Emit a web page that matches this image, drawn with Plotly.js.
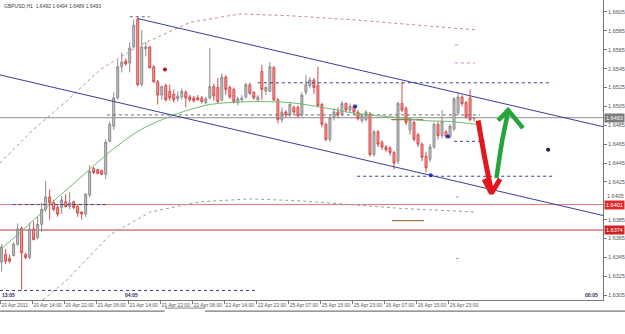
<!DOCTYPE html>
<html><head><meta charset="utf-8">
<script src="https://cdn.plot.ly/plotly-3.0.1.min.js"></script>
<style>html,body{margin:0;padding:0;background:#fff;}#chart{width:625px;height:334px;}</style>
</head><body><div id="chart"></div>
<script>
// ---- OHLC data (GBPUSD H1), one value per bar ----
const open = [1.6340,1.6348,1.6344,1.6347,1.6359,1.6376,1.6348,1.6345,1.6375,1.6366,
1.6380,1.6396,1.6409,1.6403,1.6398,1.6398,1.6404,1.6399,1.6404,1.6399,
1.6393,1.6391,1.6411,1.6439,1.6438,1.6437,1.6433,1.6468,1.6484,1.6514,
1.6547,1.6553,1.6551,1.6568,1.6597,1.6528,1.6566,1.6568,1.6547,1.6531,
1.6517,1.6527,1.6521,1.6518,1.6513,1.6515,1.6520,1.6515,1.6514,1.6514,
1.6514,1.6509,1.6514,1.6526,1.6525,1.6512,1.6536,1.6525,1.6523,1.6509,
1.6512,1.6515,1.6528,1.6520,1.6512,1.6542,1.6521,1.6521,1.6546,1.6512,
1.6491,1.6499,1.6496,1.6504,1.6504,1.6496,1.6520,1.6527,1.6533,1.6527,
1.6507,1.6486,1.6470,1.6493,1.6499,1.6497,1.6508,1.6501,1.6505,1.6499,
1.6490,1.6491,1.6497,1.6454,1.6478,1.6467,1.6462,1.6461,1.6456,1.6447,
1.6508,1.6503,1.6480,1.6488,1.6475,1.6465,1.6452,1.6449,1.6462,1.6486,
1.6474,1.6478,1.6473,1.6481,1.6498,1.6515,1.6509,1.6514,1.6492];
const high = [1.6359,1.6354,1.6348,1.6361,1.6381,1.6378,1.6350,1.6382,1.6383,1.6388,
1.6403,1.6426,1.6417,1.6406,1.6401,1.6410,1.6412,1.6414,1.6405,1.6401,
1.6394,1.6413,1.6443,1.6441,1.6439,1.6438,1.6470,1.6489,1.6520,1.6554,
1.6562,1.6556,1.6573,1.6597,1.6600,1.6586,1.6573,1.6569,1.6549,1.6533,
1.6527,1.6529,1.6528,1.6523,1.6521,1.6524,1.6522,1.6517,1.6516,1.6517,
1.6516,1.6515,1.6567,1.6529,1.6535,1.6540,1.6538,1.6527,1.6525,1.6515,
1.6517,1.6530,1.6530,1.6521,1.6517,1.6549,1.6527,1.6552,1.6548,1.6514,
1.6504,1.6501,1.6509,1.6506,1.6506,1.6520,1.6538,1.6536,1.6535,1.6547,
1.6509,1.6488,1.6496,1.6503,1.6504,1.6511,1.6509,1.6508,1.6507,1.6501,
1.6498,1.6501,1.6499,1.6480,1.6480,1.6469,1.6464,1.6463,1.6458,1.6510,
1.6531,1.6505,1.6493,1.6490,1.6477,1.6467,1.6457,1.6465,1.6488,1.6489,
1.6501,1.6480,1.6486,1.6515,1.6519,1.6517,1.6511,1.6523,1.6494];
const low = [1.6330,1.6338,1.6339,1.6346,1.6357,1.6310,1.6343,1.6343,1.6363,1.6364,
1.6372,1.6393,1.6385,1.6394,1.6388,1.6391,1.6398,1.6396,1.6396,1.6388,
1.6385,1.6388,1.6409,1.6433,1.6433,1.6432,1.6428,1.6467,1.6480,1.6512,
1.6541,1.6548,1.6541,1.6567,1.6526,1.6526,1.6558,1.6545,1.6530,1.6507,
1.6512,1.6510,1.6511,1.6509,1.6510,1.6512,1.6504,1.6510,1.6509,1.6511,
1.6508,1.6507,1.6512,1.6511,1.6508,1.6510,1.6517,1.6513,1.6508,1.6506,
1.6509,1.6513,1.6517,1.6512,1.6510,1.6512,1.6517,1.6520,1.6510,1.6487,
1.6488,1.6493,1.6494,1.6497,1.6493,1.6494,1.6517,1.6524,1.6518,1.6504,
1.6483,1.6468,1.6467,1.6490,1.6493,1.6495,1.6499,1.6498,1.6496,1.6490,
1.6487,1.6489,1.6452,1.6452,1.6462,1.6459,1.6457,1.6453,1.6438,1.6444,
1.6499,1.6485,1.6475,1.6468,1.6462,1.6447,1.6435,1.6446,1.6460,1.6470,
1.6471,1.6471,1.6471,1.6479,1.6496,1.6505,1.6492,1.6489,1.6489];
const close = [1.6356,1.6341,1.6341,1.6359,1.6375,1.6350,1.6345,1.6375,1.6364,1.6380,
1.6396,1.6409,1.6403,1.6396,1.6391,1.6406,1.6399,1.6403,1.6398,1.6392,
1.6391,1.6412,1.6436,1.6435,1.6434,1.6433,1.6467,1.6486,1.6514,1.6547,
1.6552,1.6550,1.6567,1.6591,1.6528,1.6568,1.6568,1.6546,1.6531,1.6517,
1.6526,1.6512,1.6514,1.6512,1.6516,1.6521,1.6514,1.6512,1.6511,1.6512,
1.6510,1.6513,1.6526,1.6516,1.6510,1.6536,1.6523,1.6515,1.6510,1.6513,
1.6514,1.6528,1.6519,1.6514,1.6515,1.6523,1.6525,1.6547,1.6512,1.6491,
1.6499,1.6496,1.6507,1.6499,1.6495,1.6517,1.6528,1.6533,1.6525,1.6506,
1.6486,1.6470,1.6493,1.6499,1.6496,1.6508,1.6501,1.6505,1.6499,1.6492,
1.6495,1.6499,1.6454,1.6478,1.6465,1.6462,1.6459,1.6456,1.6445,1.6508,
1.6501,1.6488,1.6491,1.6470,1.6465,1.6451,1.6440,1.6462,1.6486,1.6474,
1.6489,1.6473,1.6484,1.6513,1.6515,1.6508,1.6494,1.6491,1.6493];

// ---- axis labels ----
const xTickBars = [0,8,16,24,32,40,48,56,64,72,80,88,96,104,112];
const xTickText = ["20 Apr 2011","20 Apr 14:00","20 Apr 22:00","21 Apr 06:00","21 Apr 14:00","21 Apr 22:00","22 Apr 06:00","22 Apr 14:00","22 Apr 22:00","25 Apr 07:00","25 Apr 15:00","25 Apr 23:00","26 Apr 07:00","26 Apr 15:00","26 Apr 23:00"];
const yTicks = [1.6605,1.6585,1.6565,1.6545,1.6525,1.6505,1.6485,1.6465,1.6445,1.6425,1.6405,1.6385,1.6365,1.6345,1.6325,1.6305];
const yTickHidden = [1.6405]; // label mostly covered by the 1.6401 box; drawn just above it

// ---- indicator lines (bar index, price) ----
const maBar   = [-0.4,6.6,13.6,20.6,27.6,34.6,40.1,45.8,52.0,62.0,72.0,81.3,86.3,91.5,99.5,105.2,112.0,118.5];
const maPrice = [1.6353,1.6379,1.6407,1.6433,1.6459,1.6480,1.6491,1.6500,1.6507,1.6510,1.6509,1.6503,1.6499,1.6496,1.6493,1.6490,1.6489,1.6486];
const envUpBar   = [-0.4,7.8,16.6,24.6,34.6,47.1,59.5,72.0,87.0,104.5,118.5];
const envUpPrice = [1.6445,1.6480,1.6512,1.6544,1.6570,1.6594,1.6603,1.6601,1.6597,1.6591,1.6586];
const envLoBar   = [10.3,16.3,27.1,37.1,49.6,62.0,74.5,87.0,99.5,118.5];
const envLoPrice = [1.6300,1.6321,1.6369,1.6393,1.6404,1.6407,1.6405,1.6401,1.6397,1.6393];

// ---- channel (two parallel rays) ----
const chanUpBar = [34.0,150.2],  chanUpPrice = [1.6598,1.64835];
const chanLoBar = [-0.4,150.2],  chanLoPrice = [1.65383,1.63894];

// ---- horizontal levels ----
const fullLevels = [1.6493,1.6401,1.6374];
const dotLevelPrice = [1.6310,1.6530,1.6468,1.6431,1.6401];
const dotLevelFrom  = [-0.4,64,113,88.8,2.8];
const dotLevelTo    = [64,137.5,120.7,137.5,26.3];
const dashLevelPrice = [1.6496,1.6600];
const dashLevelFrom  = [26.3,32];
const dashLevelTo    = [119.5,37];
const pinkLevelPrice = [1.6551,1.6570,1.6409,1.6344];
const pinkLevelFrom  = [113.2,113.2,113.5,113.5];
const pinkLevelTo    = [118.2,114.6,114.8,114.8];
const brownLevelPrice = [1.6384,1.6491];
const brownLevelFrom  = [97.5,97.3];
const brownLevelTo    = [105.5,105.3];

// ---- point markers ----
const fractalBar = [88.3,107.2,111.5], fractalPrice = [1.6505,1.6432,1.6473];
const redDotBar = [40.8], redDotPrice = [1.6544];
const navyDotBar = [136.5], navyDotPrice = [1.6459];

// ---- hand drawn arrows ----
const redShaftBar = [119.0,120.6,122.35], redShaftPrice = [1.6490,1.6452,1.6415];
const redHeadBar = [120.5,122.35,124.5], redHeadPrice = [1.6428,1.6413,1.6428];
const greenShaftBar = [123.6,125.0,126.5], greenShaftPrice = [1.6429,1.6468,1.6499];
const greenHeadBar = [124.0,126.5,130.2], greenHeadPrice = [1.6490,1.6501,1.6482];

const titleText = "GBPUSD,H1  1.6492 1.6494 1.6489 1.6493";
const timerText = ["13:05","04:05","00:05"];

// ---------- build ----------
const barIndex = open.map((_, i) => i);
function segs(prices, from, to){
  const x=[], y=[];
  prices.forEach((p,k)=>{ x.push(from[k],to[k],null); y.push(p,p,null); });
  return {x,y};
}
const traces = [];
traces.push({type:'scatter',mode:'lines',x:envUpBar,y:envUpPrice,line:{color:'#c48a8a',width:1,dash:'dot'},hoverinfo:'skip'});
traces.push({type:'scatter',mode:'lines',x:envLoBar,y:envLoPrice,line:{color:'#98a48a',width:1,dash:'dot'},hoverinfo:'skip'});
let s = segs(dotLevelPrice,dotLevelFrom,dotLevelTo);
traces.push({type:'scatter',mode:'lines',x:s.x,y:s.y,line:{color:'#3d3d8f',width:1,dash:'dot'},hoverinfo:'skip',connectgaps:false});
s = segs(dashLevelPrice,dashLevelFrom,dashLevelTo);
traces.push({type:'scatter',mode:'lines',x:s.x,y:s.y,line:{color:'#6a6a6a',width:1,dash:'3px,3px'},hoverinfo:'skip',connectgaps:false});
s = segs(pinkLevelPrice,pinkLevelFrom,pinkLevelTo);
traces.push({type:'scatter',mode:'lines',x:s.x,y:s.y,line:{color:'#cc88c8',width:1,dash:'dot'},hoverinfo:'skip',connectgaps:false});
s = segs(brownLevelPrice,brownLevelFrom,brownLevelTo);
traces.push({type:'scatter',mode:'lines',x:s.x,y:s.y,line:{color:'#a8783a',width:1.3},hoverinfo:'skip',connectgaps:false});
traces.push({type:'scatter',mode:'lines',x:maBar,y:maPrice,line:{color:'#6dbb6d',width:1,shape:'spline',smoothing:0.8},hoverinfo:'skip'});
traces.push({type:'candlestick',x:barIndex,open:open,high:high,low:low,close:close,
  increasing:{line:{color:'#8c8c8c',width:1},fillcolor:'#c4c4c4'},
  decreasing:{line:{color:'#d64a4a',width:1},fillcolor:'#f2a0a0'},
  whiskerwidth:0,hoverinfo:'skip'});
traces.push({type:'scatter',mode:'lines',x:chanUpBar,y:chanUpPrice,line:{color:'#3c3c9a',width:1},hoverinfo:'skip'});
traces.push({type:'scatter',mode:'lines',x:chanLoBar,y:chanLoPrice,line:{color:'#3c3c9a',width:1},hoverinfo:'skip'});
traces.push({type:'scatter',mode:'markers',x:fractalBar,y:fractalPrice,marker:{color:'#2030c8',size:4},hoverinfo:'skip'});
traces.push({type:'scatter',mode:'markers',x:redDotBar,y:redDotPrice,marker:{color:'#c01010',size:4},hoverinfo:'skip'});
traces.push({type:'scatter',mode:'markers',x:navyDotBar,y:navyDotPrice,marker:{color:'#1c1c5a',size:4},hoverinfo:'skip'});
traces.push({type:'scatter',mode:'lines',x:redShaftBar,y:redShaftPrice,line:{color:'#e3161c',width:5,shape:'spline'},hoverinfo:'skip'});
traces.push({type:'scatter',mode:'lines',x:redHeadBar,y:redHeadPrice,line:{color:'#e3161c',width:5},hoverinfo:'skip'});
traces.push({type:'scatter',mode:'lines',x:greenShaftBar,y:greenShaftPrice,line:{color:'#23a53c',width:4.5,shape:'spline'},hoverinfo:'skip'});
traces.push({type:'scatter',mode:'lines',x:greenHeadBar,y:greenHeadPrice,line:{color:'#23a53c',width:4.5},hoverinfo:'skip'});

const levelColors = ['#8c8c8c','#e27a7a','#b83838'];
const labelBg = ['#7a7a7a','#e02a2a','#d02020'];
const shapes = fullLevels.map((p,k)=>({type:'line',xref:'paper',yref:'y',x0:0,x1:1,y0:p,y1:p,line:{color:levelColors[k],width:1},layer:'below'}));
// bottom tab strip line
shapes.push({type:'line',xref:'paper',yref:'paper',x0:0,x1:0.273,y0:-0.037,y1:-0.037,line:{color:'#555',width:1}});
shapes.push({type:'line',xref:'paper',yref:'paper',x0:0.273,x1:0.34,y0:-0.027,y1:-0.027,line:{color:'#888',width:1}});
shapes.push({type:'line',xref:'paper',yref:'paper',x0:0.34,x1:1.04,y0:-0.037,y1:-0.037,line:{color:'#555',width:1}});

const tickFont = {family:'Liberation Sans',size:5.5,color:'#555'};
const annotations = [];
yTickHidden.forEach(v=>annotations.push({xref:'paper',yref:'y',x:1,y:v,xanchor:'left',yanchor:'middle',xshift:3,yshift:4.5,
  text:v.toFixed(4),showarrow:false,borderpad:0,font:tickFont}));
fullLevels.forEach((p,k)=>annotations.push({xref:'paper',yref:'y',x:1,y:p,xanchor:'left',yanchor:'middle',xshift:1,
  text:p.toFixed(4),showarrow:false,bgcolor:labelBg[k],borderpad:1,font:{family:'Liberation Sans',size:5.5,color:'#fff'}}));
annotations.push({xref:'paper',yref:'paper',x:0,y:1,xanchor:'left',yanchor:'top',xshift:2,yshift:-1,text:titleText,showarrow:false,
  font:{family:'Liberation Sans',size:5,color:'#444'}});
const timerX = [0,0.204,0.995];
const timerAnchor = ['left','left','right'];
timerText.forEach((t,k)=>annotations.push({xref:'paper',yref:'paper',x:timerX[k],y:0,xanchor:timerAnchor[k],yanchor:'bottom',yshift:0,
  text:'<b>'+t+'</b>',showarrow:false,font:{family:'Liberation Sans',size:5,color:'#2a2a6a'}}));

const shownTicks = yTicks.filter(v=>!yTickHidden.includes(v));
const layout = {
  width:625,height:334,margin:{l:0,r:22,t:0,b:34},
  paper_bgcolor:'#ffffff',plot_bgcolor:'#ffffff',showlegend:false,hovermode:false,
  xaxis:{range:[-0.4,150.2],rangeslider:{visible:false},showgrid:false,zeroline:false,showline:true,
    linecolor:'#7a7a7a',linewidth:1,ticks:'outside',ticklen:3,tickcolor:'#7a7a7a',tickangle:0,
    tickvals:xTickBars.map(v=>v-0.3),ticktext:xTickText,ticklabelposition:'outside right',
    tickfont:{family:'Liberation Sans',size:5,color:'#555'},fixedrange:true},
  yaxis:{side:'right',range:[1.62999,1.66177],showgrid:false,zeroline:false,showline:true,
    linecolor:'#7a7a7a',linewidth:1,ticks:'outside',ticklen:3,tickcolor:'#7a7a7a',
    tickvals:shownTicks,ticktext:shownTicks.map(v=>v.toFixed(4)),
    tickfont:tickFont,fixedrange:true},
  shapes:shapes,annotations:annotations
};
Plotly.newPlot('chart',traces,layout,{staticPlot:true,displayModeBar:false});
</script></body></html>
